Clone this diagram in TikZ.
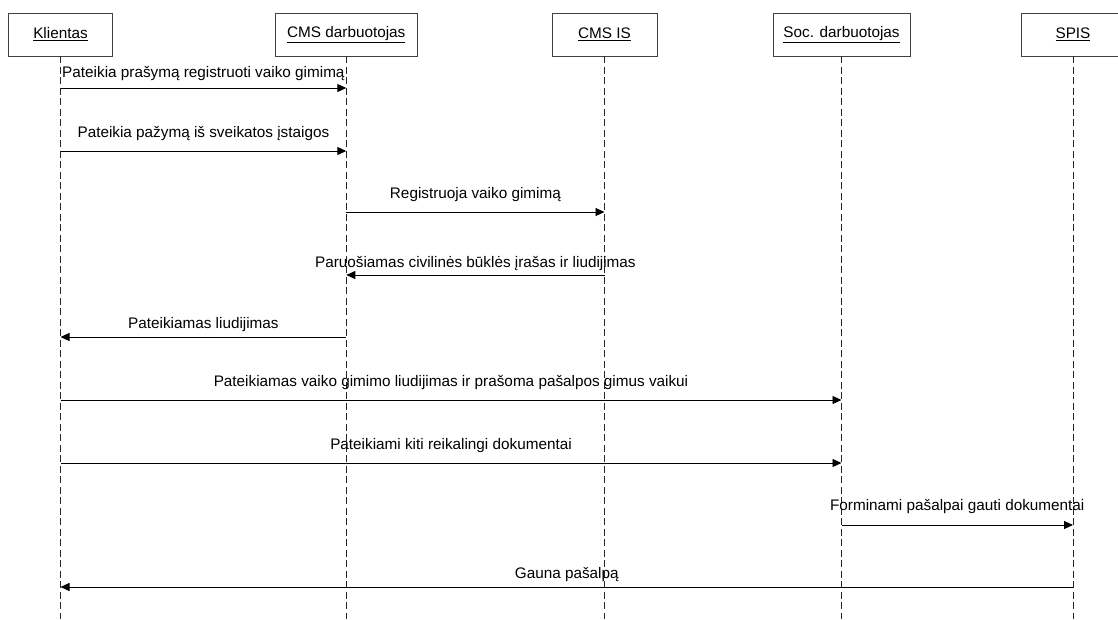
\documentclass[tikz,border=0pt]{standalone}
\usepackage{fontspec}
\setmainfont{Liberation Sans}
\usetikzlibrary{arrows.meta,calc}

\begin{document}
\begin{tikzpicture}[x=1pt,y=-1pt,
  font=\fontsize{15.3}{18}\selectfont,
  actor/.style={draw=black!75, line width=0.8pt, minimum height=43pt, inner sep=0pt, fill=white},
  lifeline/.style={draw=black!85, line width=0.8pt, dash pattern=on 7pt off 3.5pt},
  msg/.style={draw=black, line width=0.9pt, -{Triangle[length=9pt,width=8pt]}},
  lbl/.style={inner sep=0pt, anchor=base}
]
\useasboundingbox (0,0) rectangle (1118,619);

% participants
\node[actor, minimum width=104pt]   (kl)    at (60.5,34.5)  {\underline{Klientas}};
\node[actor, minimum width=141.5pt] (cmsd)  at (346.3,34.5) {\underline{CMS darbuotojas}};
\node[actor, minimum width=105pt]   (cmsis) at (604.5,34.5) {\underline{CMS IS}};
\node[actor, minimum width=137pt]   (soc)   at (841.5,34.5) {\underline{Soc. darbuotojas}};
\node[actor, minimum width=104pt]   (spis)  at (1073,34.5)  {\underline{SPIS}};

% lifelines
\coordinate (bottom) at (0,619);
\foreach \p in {kl,cmsd,cmsis,soc,spis}
  \draw[lifeline] (\p.south) -- (\p.south |- bottom);

% messages: from/to/arrow y/label baseline y/text
\foreach \f/\t/\y/\b/\txt in {
  kl/cmsd/88/77/{Pateikia prašymą registruoti vaiko gimimą},
  kl/cmsd/151/137/{Pateikia pažymą iš sveikatos įstaigos},
  cmsd/cmsis/212/198/{Registruoja vaiko gimimą},
  cmsis/cmsd/275/267/{Paruošiamas civilinės būklės įrašas ir liudijimas},
  cmsd/kl/337/328/{Pateikiamas liudijimas},
  kl/soc/400/386/{Pateikiamas vaiko gimimo liudijimas ir prašoma pašalpos gimus vaikui},
  kl/soc/463/449/{Pateikiami kiti reikalingi dokumentai},
  soc/spis/525/510/{Forminami pašalpai gauti dokumentai},
  spis/kl/587/578/{Gauna pašalpą}}
{
  \coordinate (s) at (\f.south |- 0,\y);
  \coordinate (e) at (\t.south |- 0,\y);
  \draw[msg] (s) -- (e);
  \node[lbl] at ($(s)!0.5!(e) + (0,\b-\y)$) {\txt};
}
\end{tikzpicture}
\end{document}
